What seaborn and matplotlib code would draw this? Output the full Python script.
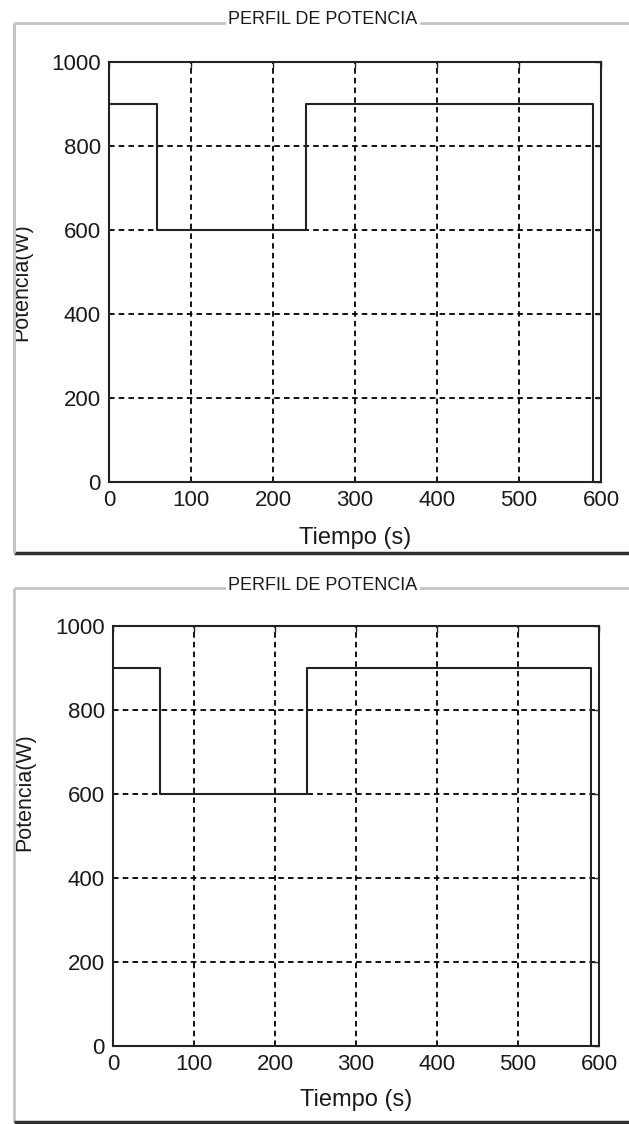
import matplotlib
matplotlib.use("Agg")
import matplotlib.pyplot as plt
from matplotlib.lines import Line2D
from matplotlib.patches import Rectangle
import seaborn as sns
import pandas as pd

# ---- data ----
tiempo = [0, 58, 58, 240, 240, 590, 590]
potencia = [900, 900, 600, 600, 900, 900, 0]
x_ticks = [0, 100, 200, 300, 400, 500, 600]
y_ticks = [0, 200, 400, 600, 800, 1000]
titulo = "PERFIL DE POTENCIA"
x_label = "Tiempo (s)"
y_label = "Potencia(W)"

sns.set_theme(style="white")
plt.rcParams['font.family'] = ['Liberation Sans', 'DejaVu Sans']
plt.rcParams['lines.scale_dashes'] = False

W, H = 629, 1124
fig = plt.figure(figsize=(W / 100, H / 100), dpi=100)
fig.patch.set_facecolor("white")

df = pd.DataFrame({"t": tiempo, "p": potencia})


def fx(x):
    return x / W


def fy(y):
    return 1 - y / H


def hline(y, x0, x1, color, lw):
    fig.add_artist(Line2D([fx(x0), fx(x1)], [fy(y), fy(y)], transform=fig.transFigure,
                          color=color, lw=lw, solid_capstyle="butt"))


def vline(x, y0, y1, color, lw):
    fig.add_artist(Line2D([fx(x), fx(x)], [fy(y0), fy(y1)], transform=fig.transFigure,
                          color=color, lw=lw, solid_capstyle="butt"))


panels = [
    dict(l=109, r=601, t=62, b=482, bt=23, bb=553, ty=20, ylx=22, yly=282, xly=538, clip=True),
    dict(l=113, r=599, t=626, b=1046, bt=588, bb=1122, ty=585, ylx=25, yly=792, xly=1100, clip=False),
]

for P in panels:
    ax = fig.add_axes([fx(P['l']), fy(P['b']), (P['r'] - P['l']) / W, (P['b'] - P['t']) / H])
    ax.set_facecolor("white")
    sns.lineplot(data=df, x="t", y="p", ax=ax, estimator=None, sort=False,
                 color="#222222", lw=1.5)
    ax.set_xlim(0, 600)
    ax.set_ylim(0, 1000)
    ax.set_xticks(x_ticks)
    ax.set_yticks(y_ticks)
    ax.grid(True, color="black", lw=1.3, linestyle=(0, (4, 3)))
    for s in ax.spines.values():
        s.set_color("#222222")
        s.set_linewidth(1.5)
        s.set_visible(True)
    ax.tick_params(direction="in", length=4, width=1, colors="#222222",
                   top=True, right=True, labelsize=16, pad=6)
    for lbl in ax.get_xticklabels() + ax.get_yticklabels():
        lbl.set_color("#1a1a1a")
    ax.set_xlabel("")
    ax.set_ylabel("")

    fig.text(fx((P['l'] + P['r']) / 2), fy(P['xly']), x_label, ha="center", va="center",
             fontsize=17, color="#1a1a1a")

    # group box
    hline(P['bt'], 14, W, "#c4c4c4", 2)
    vline(14, P['bt'], P['bb'], "#c4c4c4", 2)
    hline(P['bb'], 14, W, "#303030", 2.5)

    fig.text(fx(P['ylx']), fy(P['yly']), y_label, rotation=90, ha="center", va="center",
             fontsize=15.5, color="#1a1a1a", zorder=1)
    if P['clip']:
        fig.add_artist(Rectangle((0, fy(P['bb'])), fx(13), fy(P['bt']) - fy(P['bb']),
                                 transform=fig.transFigure, facecolor="white",
                                 edgecolor="none", zorder=2))
        vline(14, P['bt'], P['bb'], "#c4c4c4", 2)

    fig.text(fx(323), fy(P['ty']), titulo, ha="center", va="center", fontsize=13,
             color="#1a1a1a", zorder=5,
             bbox=dict(facecolor="white", edgecolor="none", pad=1.5))

fig.savefig("out.png", dpi=100, facecolor="white")
